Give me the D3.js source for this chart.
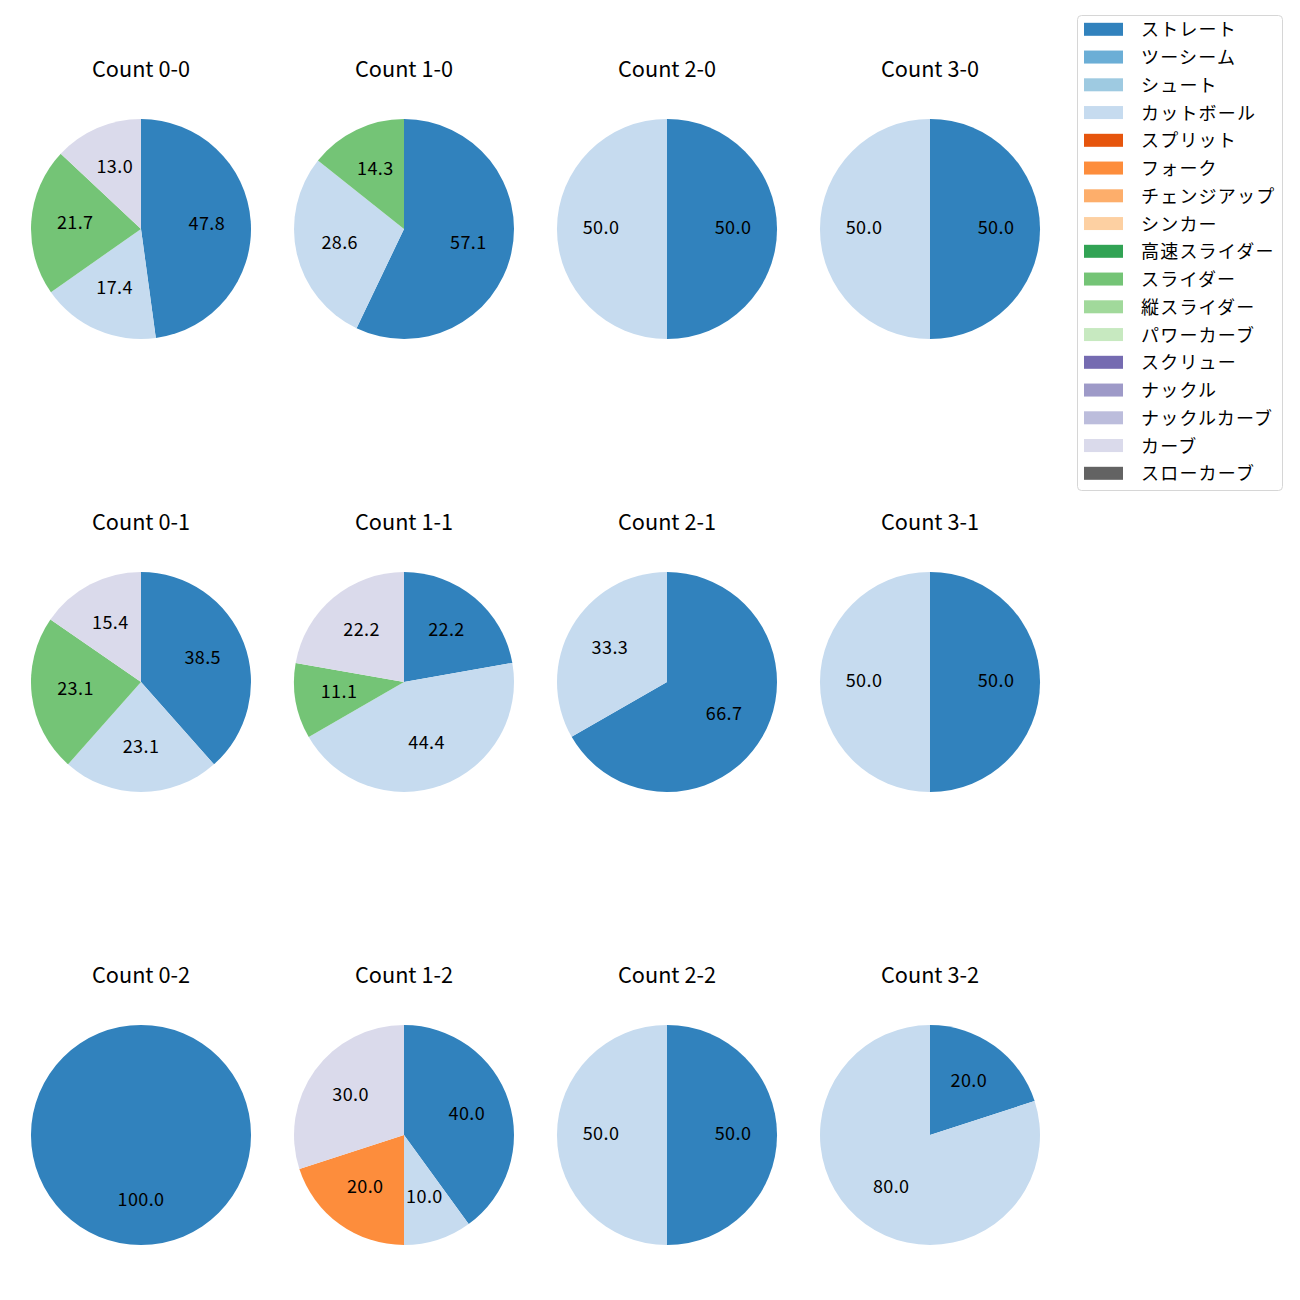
<!DOCTYPE html>
<html><head><meta charset="utf-8">
<script src="https://cdn.jsdelivr.net/npm/d3@7"></script>
<style>body{margin:0;background:#fff}svg{display:block}</style>
</head><body>
<svg id="c" width="1300" height="1300"></svg>
<script>
const pitchTypes = ["ストレート","ツーシーム","シュート","カットボール","スプリット","フォーク","チェンジアップ","シンカー","高速スライダー","スライダー","縦スライダー","パワーカーブ","スクリュー","ナックル","ナックルカーブ","カーブ","スローカーブ"];
const pitchColors = ["#3182bd","#6baed6","#9ecae1","#c6dbef","#e6550d","#fd8d3c","#fdae6b","#fdd0a2","#31a354","#74c476","#a1d99b","#c7e9c0","#756bb1","#9e9ac8","#bcbddc","#dadaeb","#636363"];
const countLabels = ["Count 0-0","Count 1-0","Count 2-0","Count 3-0","Count 0-1","Count 1-1","Count 2-1","Count 3-1","Count 0-2","Count 1-2","Count 2-2","Count 3-2"];
// shares (%) in pitchTypes order
const share00 = [47.8,0,0,17.4,0,0,0,0,0,21.7,0,0,0,0,0,13.0,0];
const share10 = [57.1,0,0,28.6,0,0,0,0,0,14.3,0,0,0,0,0,0,0];
const share20 = [50.0,0,0,50.0,0,0,0,0,0,0,0,0,0,0,0,0,0];
const share30 = [50.0,0,0,50.0,0,0,0,0,0,0,0,0,0,0,0,0,0];
const share01 = [38.5,0,0,23.1,0,0,0,0,0,23.1,0,0,0,0,0,15.4,0];
const share11 = [22.2,0,0,44.4,0,0,0,0,0,11.1,0,0,0,0,0,22.2,0];
const share21 = [66.7,0,0,33.3,0,0,0,0,0,0,0,0,0,0,0,0,0];
const share31 = [50.0,0,0,50.0,0,0,0,0,0,0,0,0,0,0,0,0,0];
const share02 = [100.0,0,0,0,0,0,0,0,0,0,0,0,0,0,0,0,0];
const share12 = [40.0,0,0,10.0,0,20.0,0,0,0,0,0,0,0,0,0,30.0,0];
const share22 = [50.0,0,0,50.0,0,0,0,0,0,0,0,0,0,0,0,0,0];
const share32 = [20.0,0,0,80.0,0,0,0,0,0,0,0,0,0,0,0,0,0];
const allShares = [share00,share10,share20,share30,share01,share11,share21,share31,share02,share12,share22,share32];

const svg = d3.select("#c");
const font = "'Noto Sans CJK JP','Noto Sans',sans-serif";
const color = d3.scaleOrdinal().domain(pitchTypes).range(pitchColors);
const colX = d3.scalePoint().domain([0,1,2,3]).range([141,930]);
const rowY = d3.scalePoint().domain([0,1,2]).range([229,1135]);
const R = 110;
const pie = d3.pie().sort(null).value(d => d.v).startAngle(0).endAngle(2*Math.PI);
const arc = d3.arc().innerRadius(0).outerRadius(R);
const labelArc = d3.arc().innerRadius(R*0.6).outerRadius(R*0.6);

allShares.forEach((vals, i) => {
  const cx = colX(i % 4), cy = rowY(Math.floor(i / 4));
  const g = svg.append("g").attr("transform", `translate(${cx},${cy})`);
  const data = pitchTypes.map((p, k) => ({p, v: vals[k]})).filter(d => d.v > 0);
  const arcs = pie(data);
  g.selectAll("path").data(arcs).join("path")
    .attr("d", arc).attr("fill", d => color(d.data.p));
  g.selectAll("text.l").data(arcs).join("text").attr("class","l")
    .attr("transform", d => { const c = labelArc.centroid(d); return `translate(${c[0]},${c[1]-3})`; })
    .attr("text-anchor","middle").attr("dominant-baseline","central")
    .style("font-family", font).style("font-size","18px").style("letter-spacing","0.4px").attr("fill","#000")
    .text(d => d.data.v.toFixed(1));
  svg.append("text").attr("x", cx).attr("y", cy - 162)
    .attr("text-anchor","middle").attr("dominant-baseline","central")
    .style("font-family", font).style("font-size","21.7px").attr("fill","#000")
    .text(countLabels[i]);
});

// legend
const lg = svg.append("g");
lg.append("rect").attr("x",1077.5).attr("y",15.5).attr("width",205).attr("height",475)
  .attr("rx",4).attr("fill","#fff").attr("fill-opacity",0.8).attr("stroke","#d6d6d6");
const ly = d3.scaleLinear().domain([0, pitchTypes.length - 1]).range([29.3, 473.3]);
pitchTypes.forEach((p, k) => {
  lg.append("rect").attr("x",1084).attr("y",ly(k)-6.5).attr("width",39).attr("height",13).attr("fill",color(p));
  lg.append("text").attr("x",1141).attr("y",ly(k)-1).attr("dominant-baseline","central")
    .style("font-family", font).style("font-size","18px").style("letter-spacing","1.2px").attr("fill","#000").text(p);
});
</script>
</body></html>
